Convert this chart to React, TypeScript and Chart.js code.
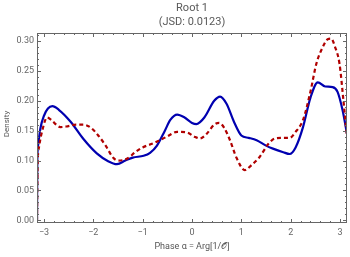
import React, { useEffect, useRef } from "react";
import { Chart, registerables } from "chart.js";

Chart.register(...registerables);

const titleMain = "Root 1";
const titleSub = "(JSD: 0.0123)";
const xTitle = "Phase α = Arg[1/𝒪]";
const yTitle = "Density";

const blueX = [-3.1416, -3.135, -3.12, -3.07, -3.0, -2.92, -2.83, -2.7, -2.46, -2.2, -1.93, -1.7, -1.52, -1.35, -1.2, -0.98, -0.85, -0.71, -0.55, -0.44, -0.3, -0.15, 0.0, 0.09, 0.25, 0.45, 0.57, 0.7, 0.85, 1.0, 1.15, 1.31, 1.5, 1.64, 1.85, 1.98, 2.1, 2.25, 2.4, 2.55, 2.7, 2.85, 2.95, 3.05, 3.1416];
const blueY = [0, 0.1, 0.125, 0.155, 0.175, 0.187, 0.191, 0.185, 0.165, 0.136, 0.112, 0.099, 0.094, 0.1, 0.105, 0.108, 0.113, 0.125, 0.15, 0.168, 0.177, 0.172, 0.163, 0.161, 0.172, 0.2, 0.207, 0.195, 0.165, 0.142, 0.138, 0.134, 0.125, 0.12, 0.114, 0.111, 0.122, 0.156, 0.205, 0.231, 0.224, 0.223, 0.215, 0.185, 0.145];

const redX = [-3.1416, -3.13, -3.1, -3.02, -2.94, -2.85, -2.75, -2.67, -2.55, -2.35, -2.2, -2.05, -1.9, -1.75, -1.6, -1.5, -1.32, -1.15, -1.0, -0.78, -0.51, -0.3, -0.1, 0.05, 0.16, 0.3, 0.45, 0.55, 0.65, 0.77, 0.9, 1.07, 1.2, 1.37, 1.55, 1.68, 1.85, 1.98, 2.1, 2.25, 2.4, 2.52, 2.65, 2.75, 2.82, 2.9, 2.99, 3.07, 3.1416];
const redY = [0, 0.09, 0.123, 0.155, 0.172, 0.168, 0.16, 0.156, 0.157, 0.16, 0.16, 0.155, 0.142, 0.125, 0.105, 0.1, 0.103, 0.114, 0.122, 0.129, 0.14, 0.148, 0.147, 0.14, 0.137, 0.145, 0.16, 0.163, 0.155, 0.134, 0.105, 0.084, 0.092, 0.106, 0.128, 0.137, 0.138, 0.138, 0.148, 0.168, 0.215, 0.262, 0.29, 0.303, 0.304, 0.29, 0.262, 0.2, 0.14];

const xMajor = [-3, -2, -1, 0, 1, 2, 3];
const yMajor = [0, 0.05, 0.1, 0.15, 0.2, 0.25, 0.3];

const FONT = "Roboto, 'Liberation Sans', sans-serif";

const framePlugin = {
  id: "frame",
  afterDraw(chart: any) {
    const { ctx, chartArea: a, scales } = chart;
    const xs = scales.x;
    const ys = scales.y;
    ctx.save();
    ctx.strokeStyle = "#666";
    ctx.lineWidth = 1;
    ctx.strokeRect(a.left + 0.5, a.top + 0.5, a.right - a.left - 1, a.bottom - a.top - 1);
    ctx.beginPath();
    // x ticks
    for (let i = -16; i <= 16; i++) {
      const v = i * 0.2;
      if (v < xs.min || v > xs.max) continue;
      const major = Math.abs(v - Math.round(v)) < 1e-6;
      const len = major ? 4 : 2;
      const px = Math.round(xs.getPixelForValue(v)) + 0.5;
      ctx.moveTo(px, a.bottom);
      ctx.lineTo(px, a.bottom - len);
      ctx.moveTo(px, a.top);
      ctx.lineTo(px, a.top + len);
    }
    for (let i = 0; i <= 31; i++) {
      const v = i * 0.01;
      if (v < ys.min || v > ys.max) continue;
      const major = i % 5 === 0;
      const len = major ? 4 : 2;
      const py = Math.round(ys.getPixelForValue(v)) + 0.5;
      ctx.moveTo(a.left, py);
      ctx.lineTo(a.left + len, py);
      ctx.moveTo(a.right, py);
      ctx.lineTo(a.right - len, py);
    }
    ctx.stroke();

    ctx.fillStyle = "#666";
    ctx.font = `9px ${FONT}`;
    ctx.textAlign = "center";
    ctx.textBaseline = "middle";
    xMajor.forEach((v) => {
      const label = v < 0 ? "\u2212" + Math.abs(v) : String(v);
      ctx.fillText(label, xs.getPixelForValue(v), a.bottom + 10);
    });
    ctx.textAlign = "right";
    yMajor.forEach((v) => {
      ctx.fillText(v.toFixed(2), a.left - 3, ys.getPixelForValue(v));
    });

    ctx.fillStyle = "#555";
    ctx.textAlign = "center";
    ctx.font = `9px ${FONT}`;
    ctx.fillText(xTitle, (a.left + a.right) / 2, 247);
    ctx.save();
    ctx.translate(7, (a.top + a.bottom) / 2 - 4);
    ctx.rotate(-Math.PI / 2);
    ctx.font = `8px ${FONT}`;
    ctx.fillText(yTitle, 0, 0);
    ctx.restore();

    ctx.fillStyle = "#595959";
    ctx.font = `11px ${FONT}`;
    ctx.fillText(titleMain, (a.left + a.right) / 2, 8);
    ctx.fillText(titleSub, (a.left + a.right) / 2, 22);
    ctx.restore();
  },
};

export default function App() {
  const ref = useRef<HTMLCanvasElement>(null);
  useEffect(() => {
    if (!ref.current) return;
    const chart = new Chart(ref.current, {
      type: "line",
      data: {
        datasets: [
          {
            label: "red",
            data: redX.map((x, i) => ({ x, y: redY[i] })),
            borderColor: "#b00000",
            borderWidth: 2.2,
            borderDash: [4, 3],
            pointRadius: 0,
            fill: false,
            cubicInterpolationMode: "monotone",
          },
          {
            label: "blue",
            data: blueX.map((x, i) => ({ x, y: blueY[i] })),
            borderColor: "#0000b0",
            borderWidth: 2.2,
            pointRadius: 0,
            fill: false,
            cubicInterpolationMode: "monotone",
          },
        ],
      },
      options: {
        responsive: false,
        animation: false,
        layout: { padding: { left: 37, right: 3, top: 33, bottom: 34 } },
        plugins: { legend: { display: false }, tooltip: { enabled: false }, title: { display: false } },
        scales: {
          x: { type: "linear", min: -Math.PI, max: Math.PI, display: false },
          y: { type: "linear", min: -0.0045, max: 0.3135, display: false },
        },
      },
      plugins: [framePlugin],
    });
    return () => chart.destroy();
  }, []);
  return (
    <div style={{ position: "absolute", left: 0, top: 0, width: 350, height: 257, background: "#fff" }}>
      <canvas ref={ref} width={350} height={257} style={{ width: 350, height: 257 }} />
    </div>
  );
}
